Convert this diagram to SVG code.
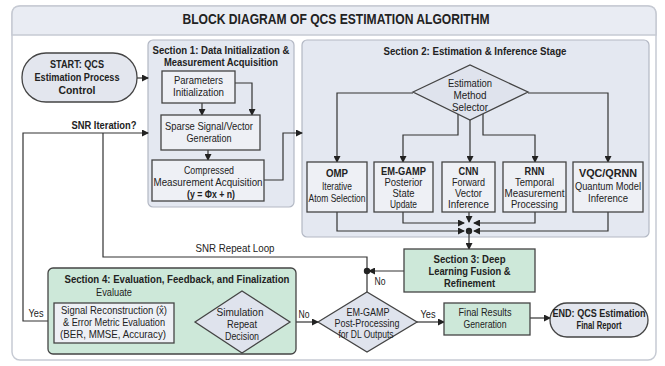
<svg xmlns="http://www.w3.org/2000/svg" width="665" height="366" viewBox="0 0 665 366">
<defs>
<marker id="ah" markerWidth="7" markerHeight="7" refX="6" refY="3.5" orient="auto" markerUnits="userSpaceOnUse">
<path d="M0,0 L7,3.5 L0,7 Z" fill="#222"/>
</marker>
<style>
text{font-family:"Liberation Sans",Arial,sans-serif;fill:#222;text-anchor:middle}
.t{font-size:15.5px;font-weight:bold}
.h{font-size:11.5px;font-weight:bold}
.b{font-size:11px}
.s{font-size:10.5px}
.bb{font-size:11px;font-weight:bold}
.sec{fill:#e4e8f1;stroke:#b3b8c4;stroke-width:1.2}
.box{fill:#eef0f5;stroke:#444;stroke-width:1.3}
.grn{fill:#cde8d9;stroke:#444;stroke-width:1.3}
.dia{fill:#dfe3ed;stroke:#444;stroke-width:1.3}
.term{fill:#e3e6ee;stroke:#444;stroke-width:1.3}
.c{fill:none;stroke:#333;stroke-width:1.2}
.a{marker-end:url(#ah)}
</style>
</defs>
<rect width="665" height="366" fill="#fff"/>
<g id="frame">
<rect x="12" y="6" width="644" height="354" rx="8" fill="#fff" stroke="#c6cad3" stroke-width="1.5"/>
<path d="M12,35 V14 Q12,6 20,6 H648 Q656,6 656,14 V35 Z" fill="#e9ecf3" stroke="#c6cad3" stroke-width="1.5"/>
<text class="t" x="336" y="24" textLength="307" lengthAdjust="spacingAndGlyphs">BLOCK DIAGRAM OF QCS ESTIMATION ALGORITHM</text>
</g>
<g id="sec1">
<rect class="sec" x="148" y="40" width="146" height="167" rx="5"/>
<text class="h" x="221" y="54" textLength="137" lengthAdjust="spacingAndGlyphs">Section 1: Data Initialization &amp;</text>
<text class="h" x="221" y="66" textLength="114" lengthAdjust="spacingAndGlyphs">Measurement Acquisition</text>
</g>
<g id="sec2">
<rect class="sec" x="302" y="40" width="347" height="197" rx="5"/>
<text class="h" x="475" y="55" textLength="183" lengthAdjust="spacingAndGlyphs">Section 2: Estimation &amp; Inference Stage</text>
</g>
<g id="connectors">
<path class="c a" d="M137,78 H148"/>
<path class="c a" d="M202,103 V115"/>
<path class="c a" d="M235,83 H252 V115"/>
<path class="c a" d="M208,150 V160"/>
<path class="c a" d="M264,180 H283 V133 H302"/>
<path class="c a" d="M54,321 H23 V133 H148"/>
<path class="c" d="M367,292 V257 H103 V133"/>
<path class="c a" d="M404,271 H369"/>
<circle cx="367" cy="271" r="3.2" fill="#222"/>
<path class="c a" d="M195,322 H174"/>
<path class="c a" d="M290,322 H318"/>
<path class="c a" d="M417,322 H444"/>
<path class="c a" d="M530,318 H550"/>
<path class="c a" d="M413,93 H337 V162"/>
<path class="c a" d="M528,93 H608 V162"/>
<path class="c a" d="M458,114 V135 H403 V162"/>
<path class="c a" d="M470,120 V162"/>
<path class="c a" d="M483,114 V135 H535 V162"/>
<path class="c a" d="M337,212 V231 H464"/>
<path class="c a" d="M403,212 V223 H464"/>
<path class="c a" d="M469,212 V222"/>
<path class="c a" d="M535,212 V223 H474"/>
<path class="c a" d="M608,212 V231 H474"/>
<circle cx="469" cy="231" r="3.2" fill="#222"/>
<path class="c a" d="M469,231 V249"/>
<text class="bb" x="104" y="129" textLength="65" lengthAdjust="spacingAndGlyphs">SNR Iteration?</text>
<text class="b" x="235" y="252" textLength="79" lengthAdjust="spacingAndGlyphs">SNR Repeat Loop</text>
<text class="b" x="36" y="317" textLength="15" lengthAdjust="spacingAndGlyphs">Yes</text>
<text class="b" x="189" y="318" textLength="15" lengthAdjust="spacingAndGlyphs">Yes</text>
<text class="b" x="304" y="318" textLength="11" lengthAdjust="spacingAndGlyphs">No</text>
<text class="b" x="428" y="318" textLength="15" lengthAdjust="spacingAndGlyphs">Yes</text>
<text class="b" x="380" y="285" textLength="11" lengthAdjust="spacingAndGlyphs">No</text>
</g>
<g id="start">
<rect class="term" x="22" y="53" width="115" height="49" rx="24"/>
<text class="bb" x="77" y="68" textLength="54" lengthAdjust="spacingAndGlyphs">START: QCS</text>
<text class="bb" x="77" y="81" textLength="85" lengthAdjust="spacingAndGlyphs">Estimation Process</text>
<text class="bb" x="77" y="94" textLength="37" lengthAdjust="spacingAndGlyphs">Control</text>
</g>
<g id="params">
<rect class="box" x="162" y="71" width="73" height="32"/>
<text class="b" x="198.5" y="84" textLength="49" lengthAdjust="spacingAndGlyphs">Parameters</text>
<text class="b" x="198.5" y="96" textLength="51" lengthAdjust="spacingAndGlyphs">Initialization</text>
</g>
<g id="sparse">
<rect class="box" x="161" y="115" width="99" height="35"/>
<text class="b" x="209" y="130" textLength="88" lengthAdjust="spacingAndGlyphs">Sparse Signal/Vector</text>
<text class="b" x="209" y="142" textLength="45" lengthAdjust="spacingAndGlyphs">Generation</text>
</g>
<g id="compressed">
<rect class="box" x="152" y="160" width="112" height="41"/>
<text class="b" x="209" y="174" textLength="50" lengthAdjust="spacingAndGlyphs">Compressed</text>
<text class="b" x="208" y="186" textLength="109" lengthAdjust="spacingAndGlyphs">Measurement Acquisition</text>
<text class="bb" x="211" y="198" textLength="48" lengthAdjust="spacingAndGlyphs">(y = Φx + n)</text>
</g>
<g id="selector">
<polygon class="dia" points="413,92 470,65 528,92 470,120"/>
<text class="b" x="470" y="87" textLength="44" lengthAdjust="spacingAndGlyphs">Estimation</text>
<text class="b" x="470" y="99" textLength="33" lengthAdjust="spacingAndGlyphs">Method</text>
<text class="b" x="470" y="111" textLength="36" lengthAdjust="spacingAndGlyphs">Selector</text>
</g>
<g id="omp">
<rect class="box" x="307" y="162" width="60" height="50"/>
<text class="bb" x="337" y="177" textLength="22" lengthAdjust="spacingAndGlyphs">OMP</text>
<text class="b" x="337" y="190" textLength="30" lengthAdjust="spacingAndGlyphs">Iterative</text>
<text class="b" x="337" y="202" textLength="57" lengthAdjust="spacingAndGlyphs">Atom Selection</text>
</g>
<g id="emgamp">
<rect class="box" x="374" y="162" width="59" height="50"/>
<text class="bb" x="403.5" y="175" textLength="45" lengthAdjust="spacingAndGlyphs">EM-GAMP</text>
<text class="b" x="403.5" y="186" textLength="38" lengthAdjust="spacingAndGlyphs">Posterior</text>
<text class="b" x="403.5" y="197" textLength="22" lengthAdjust="spacingAndGlyphs">State</text>
<text class="b" x="403.5" y="208" textLength="27" lengthAdjust="spacingAndGlyphs">Update</text>
</g>
<g id="cnn">
<rect class="box" x="442" y="162" width="53" height="50"/>
<text class="bb" x="468.5" y="175" textLength="20" lengthAdjust="spacingAndGlyphs">CNN</text>
<text class="b" x="468.5" y="186" textLength="33" lengthAdjust="spacingAndGlyphs">Forward</text>
<text class="b" x="468.5" y="197" textLength="27" lengthAdjust="spacingAndGlyphs">Vector</text>
<text class="b" x="468.5" y="208" textLength="41" lengthAdjust="spacingAndGlyphs">Inference</text>
</g>
<g id="rnn">
<rect class="box" x="503" y="162" width="63" height="50"/>
<text class="bb" x="534.5" y="175" textLength="20" lengthAdjust="spacingAndGlyphs">RNN</text>
<text class="b" x="534.5" y="186" textLength="39" lengthAdjust="spacingAndGlyphs">Temporal</text>
<text class="b" x="534.5" y="197" textLength="60" lengthAdjust="spacingAndGlyphs">Measurement</text>
<text class="b" x="534.5" y="208" textLength="47" lengthAdjust="spacingAndGlyphs">Processing</text>
</g>
<g id="vqc">
<rect class="box" x="573" y="162" width="70" height="50"/>
<text class="bb" x="608" y="177" textLength="58" lengthAdjust="spacingAndGlyphs">VQC/QRNN</text>
<text class="b" x="608" y="190" textLength="66" lengthAdjust="spacingAndGlyphs">Quantum Model</text>
<text class="b" x="608" y="202" textLength="40" lengthAdjust="spacingAndGlyphs">Inference</text>
</g>
<g id="sec3">
<rect class="grn" x="404" y="249" width="131" height="43"/>
<text class="h" x="469.5" y="263" textLength="72" lengthAdjust="spacingAndGlyphs">Section 3: Deep</text>
<text class="h" x="469.5" y="275" textLength="82" lengthAdjust="spacingAndGlyphs">Learning Fusion &amp;</text>
<text class="h" x="469.5" y="287" textLength="51" lengthAdjust="spacingAndGlyphs">Refinement</text>
</g>
<g id="sec4">
<rect class="grn" x="48" y="268" width="248" height="86" rx="5"/>
<text class="h" x="177" y="283" textLength="225" lengthAdjust="spacingAndGlyphs">Section 4: Evaluation, Feedback, and Finalization</text>
<text class="b" x="114" y="296" textLength="36" lengthAdjust="spacingAndGlyphs">Evaluate</text>
</g>
<g id="signal">
<rect class="box" x="54" y="303" width="120" height="40"/>
<text class="s" x="114" y="314" textLength="106" lengthAdjust="spacingAndGlyphs">Signal Reconstruction (x̂)</text>
<text class="s" x="114" y="326" textLength="102" lengthAdjust="spacingAndGlyphs">&amp; Error Metric Evaluation</text>
<text class="s" x="113" y="338" textLength="106" lengthAdjust="spacingAndGlyphs">(BER, MMSE, Accuracy)</text>
</g>
<g id="simdecision">
<polygon class="dia" points="195,322 242,291 290,322 242,353"/>
<text class="b" x="240" y="316" textLength="47" lengthAdjust="spacingAndGlyphs">Simulation</text>
<text class="b" x="242" y="328" textLength="30" lengthAdjust="spacingAndGlyphs">Repeat</text>
<text class="b" x="242" y="340" textLength="34" lengthAdjust="spacingAndGlyphs">Decision</text>
</g>
<g id="postproc">
<polygon class="dia" points="318,322 367,292 417,322 367,352"/>
<text class="b" x="368" y="316" textLength="43" lengthAdjust="spacingAndGlyphs">EM-GAMP</text>
<text class="b" x="367" y="327" textLength="65" lengthAdjust="spacingAndGlyphs">Post-Processing</text>
<text class="b" x="366" y="338" textLength="55" lengthAdjust="spacingAndGlyphs">for DL Outputs</text>
</g>
<g id="final">
<rect class="grn" x="444" y="303" width="86" height="32"/>
<text class="b" x="485" y="316" textLength="53" lengthAdjust="spacingAndGlyphs">Final Results</text>
<text class="b" x="485" y="328" textLength="43" lengthAdjust="spacingAndGlyphs">Generation</text>
</g>
<g id="end">
<rect class="term" x="550" y="303" width="98" height="34" rx="17"/>
<text class="bb" x="599" y="317" textLength="93" lengthAdjust="spacingAndGlyphs">END: QCS Estimation</text>
<text class="bb" x="599" y="329" textLength="45" lengthAdjust="spacingAndGlyphs">Final Report</text>
</g>
</svg>
